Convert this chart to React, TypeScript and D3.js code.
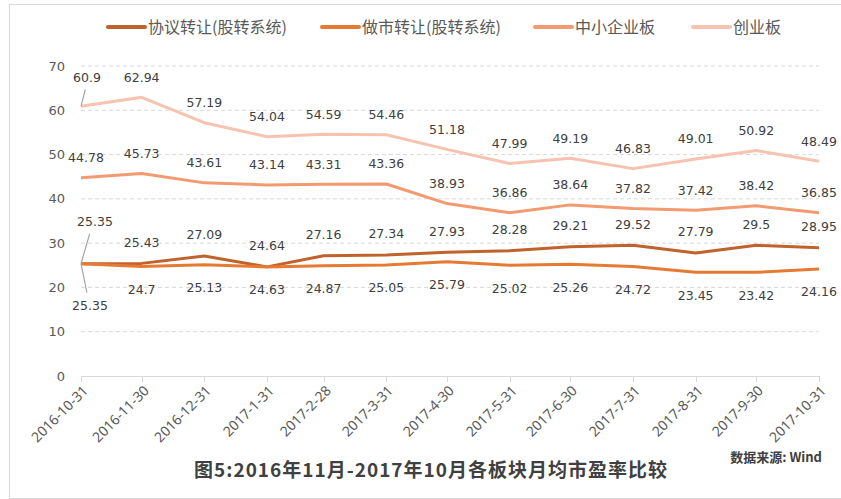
import React from 'react';
import * as d3 from 'd3';

const dates = ['2016-10-31', '2016-11-30', '2016-12-31', '2017-1-31', '2017-2-28', '2017-3-31', '2017-4-30',
  '2017-5-31', '2017-6-30', '2017-7-31', '2017-8-31', '2017-9-30', '2017-10-31'];

const xieyi = [25.35, 25.43, 27.09, 24.64, 27.16, 27.34, 27.93, 28.28, 29.21, 29.52, 27.79, 29.5, 28.95];
const zuoshi = [25.35, 24.7, 25.13, 24.63, 24.87, 25.05, 25.79, 25.02, 25.26, 24.72, 23.45, 23.42, 24.16];
const zhongxiao = [44.78, 45.73, 43.61, 43.14, 43.31, 43.36, 38.93, 36.86, 38.64, 37.82, 37.42, 38.42, 36.85];
const chuangye = [60.9, 62.94, 57.19, 54.04, 54.59, 54.46, 51.18, 47.99, 49.19, 46.83, 49.01, 50.92, 48.49];

const yTicks = [0, 10, 20, 30, 40, 50, 60, 70];

const seriesNames = ['协议转让(股转系统)', '做市转让(股转系统)', '中小企业板', '创业板'];
const seriesColors = ['#C0622B', '#E67A32', '#F29A70', '#F7C3B0'];

const parse = d3.timeParse('%Y-%m-%d');

export default function App() {
  document.body.style.margin = '0';

  const x = d3.scaleTime()
    .domain([parse(dates[0])!, parse(dates[dates.length - 1])!])
    .range([81, 819]);
  const y = d3.scaleLinear().domain([0, 70]).range([376, 66]);

  // first label of some series is pulled off the point (with a leader line in Excel)
  const series = [
    { name: seriesNames[0], color: seriesColors[0], values: xieyi, dy: -21, first: { dx: 14, dy: -42, leader: true } },
    { name: seriesNames[1], color: seriesColors[1], values: zuoshi, dy: 23, first: { dx: 9, dy: 42, leader: true } },
    { name: seriesNames[2], color: seriesColors[2], values: zhongxiao, dy: -20, first: { dx: 5, dy: -20, leader: false } },
    { name: seriesNames[3], color: seriesColors[3], values: chuangye, dy: -20, first: { dx: 6, dy: -29, leader: true } },
  ];

  const line = d3.line<number>()
    .x((d, i) => x(parse(dates[i])!))
    .y(d => y(d));

  // legend positions
  const legendX = [108, 322, 535, 693];

  const labelFont = '"DejaVu Sans", Verdana, sans-serif';

  return (
    <svg width={841} height={499} style={{ display: 'block', background: '#fff' }}>
      <rect x={9.5} y={4.5} width={840} height={494} fill="none" stroke="#D9D9D9" />

      {/* grid */}
      {yTicks.filter(t => t > 0).map(t => (
        <line key={t} x1={81} x2={819} y1={y(t)} y2={y(t)} stroke="#D9D9D9" strokeDasharray="4,3" />
      ))}
      {yTicks.map(t => (
        <text key={'yl' + t} x={65} y={y(t)} dy="0.35em" textAnchor="end" fontSize={13}
          fontFamily={labelFont} fill="#595959">{t}</text>
      ))}

      {/* x axis */}
      <line x1={81} x2={819} y1={376.5} y2={376.5} stroke="#D9D9D9" />
      {dates.map(d => {
        const xx = Math.round(x(parse(d)!)) + 0.5;
        return (
          <g key={d}>
            <line x1={xx} x2={xx} y1={376} y2={382} stroke="#D9D9D9" />
            <text transform={`translate(${xx + 4},${388}) rotate(-45)`} textAnchor="end" dy="0.35em"
              fontSize={14} fontFamily='"Noto Sans", sans-serif' fill="#595959">{d}</text>
          </g>
        );
      })}

      {/* lines */}
      {series.map(s => (
        <path key={s.name} d={line(s.values) || ''} fill="none" stroke={s.color} strokeWidth={3}
          strokeLinejoin="round" />
      ))}

      {/* leader lines + labels */}
      {series.map(s => (
        <g key={'lab' + s.name}>
          {s.values.map((v, i) => {
            const px = x(parse(dates[i])!);
            const py = y(v);
            if (i === 0) {
              const lx = px + s.first.dx;
              const ly = py + s.first.dy;
              const ey = ly + (s.first.dy < 0 ? 12 : -13);
              return (
                <g key={i}>
                  {s.first.leader && (
                    <line x1={px} y1={py} x2={px + s.first.dx * 0.55 + 1} y2={ey} stroke="#A6A6A6" strokeWidth={1.2} />
                  )}
                  <text x={lx} y={ly} dy="0.35em" textAnchor="middle" fontSize={12.5}
                    fontFamily={labelFont} fill="#404040">{v}</text>
                </g>
              );
            }
            return (
              <text key={i} x={px} y={py + s.dy} dy="0.35em" textAnchor="middle" fontSize={12.5}
                fontFamily={labelFont} fill="#404040">{v}</text>
            );
          })}
        </g>
      ))}

      {/* legend */}
      {series.map((s, i) => (
        <g key={'lg' + s.name} transform={`translate(${legendX[i]},27)`}>
          <line x1={0} x2={37} y1={0} y2={0} stroke={s.color} strokeWidth={4} strokeLinecap="round" />
          <text x={40} y={0} dy="0.35em" fontSize={16} fontFamily='"Noto Sans CJK SC", sans-serif'
            fill="#595959">{s.name}</text>
        </g>
      ))}

      <text x={822} y={457} dy="0.35em" textAnchor="end" fontSize={13} fontWeight="bold"
        fontFamily='"Noto Sans CJK SC", sans-serif' fill="#404040">数据来源: Wind</text>
      <text x={431} y={470} dy="0.35em" textAnchor="middle" fontSize={19} fontWeight="bold"
        fontFamily='"Noto Sans CJK SC", sans-serif' fill="#404040" letterSpacing={1}>图5:2016年11月-2017年10月各板块月均市盈率比较</text>
    </svg>
  );
}
